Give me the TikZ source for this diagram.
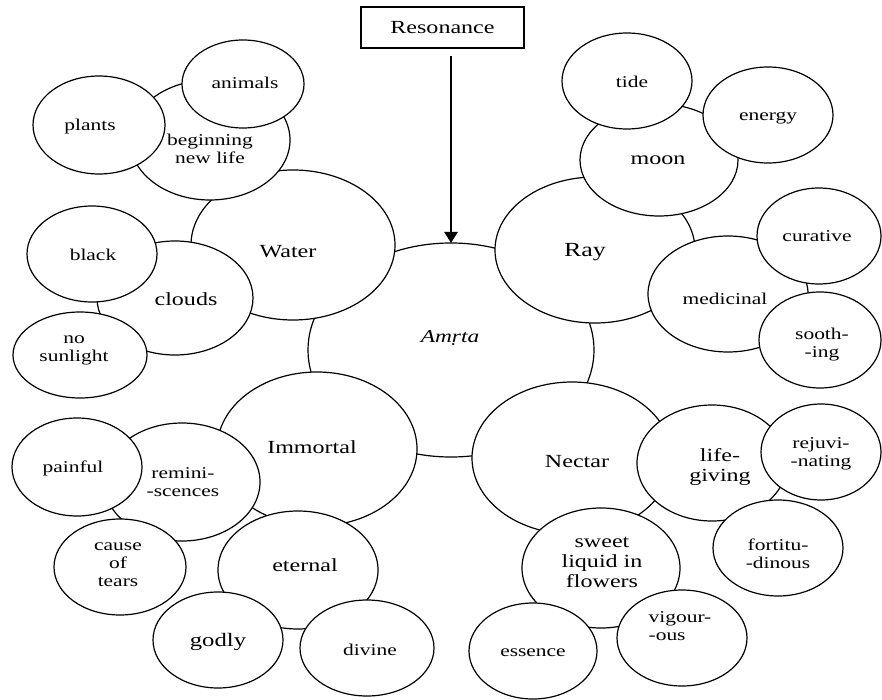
\documentclass[tikz,border=0pt]{standalone}
\usepackage{fontspec}
\setmainfont{Liberation Serif}
\usepackage{graphicx}
\usetikzlibrary{shapes.geometric,arrows.meta}
\newcommand\sxa[1]{\scalebox{1.3}[1]{#1}}
\newcommand\mlc[1]{\scalebox{1.3}[1]{\begin{tabular}{@{}c@{}}#1\end{tabular}}}
\newcommand\mll[1]{\scalebox{1.3}[1]{\begin{tabular}{@{}l@{}}#1\end{tabular}}}
\tikzset{
  bub/.style 2 args={ellipse, draw=black, fill=white, line width=1.2pt,
    inner sep=0pt, outer sep=0pt, minimum width=#1pt, minimum height=#2pt},
  big/.style={font=\fontsize{18.5}{20}\selectfont, inner sep=0pt},
  sml/.style={font=\fontsize{16.5}{18}\selectfont, inner sep=0pt},
  box/.style={draw=black, fill=white, line width=1.2pt, inner sep=0pt,
    minimum width=163pt, minimum height=41pt},
  arr/.style={line width=2.6pt, -{Triangle[width=13pt,length=11pt]}, shorten <=7pt},
}
\begin{document}
\begin{tikzpicture}[x=1pt,y=-1pt]
\useasboundingbox (0,0) rectangle (882,700);
% back layer
\node[bub={286}{214}] (amrta) at (451,350) {};
% main layer
\node[bub={204}{150}] (water) at (293,245) {};
\node[bub={200}{146}] (ray) at (595,250) {};
\node[bub={200}{154}] (immortal) at (317,449) {};
\node[bub={200}{152}] (nectar) at (572,458) {};
% second layer
\node[bub={160}{120}] (bnl) at (210,140) {};
\node[bub={156}{114}] (clouds) at (175,298) {};
\node[bub={158}{112}] (moon) at (659,160) {};
\node[bub={160}{116}] (medicinal) at (728,294) {};
\node[bub={156}{118}] (remin) at (182,482) {};
\node[bub={160}{118}] (eternal) at (298,570) {};
\node[bub={150}{116}] (lifeg) at (712,463) {};
\node[bub={158}{120}] (sweet) at (601,568) {};
% leaves
\node[bub={132}{98}] (plants) at (99,125) {};
\node[bub={122}{88}] (animals) at (243,84) {};
\node[bub={130}{96}] (black) at (92,254) {};
\node[bub={134}{86}] (nosun) at (80,355) {};
\node[bub={130}{96}] (tide) at (627,81) {};
\node[bub={130}{96}] (energy) at (768,115) {};
\node[bub={124}{96}] (curative) at (819,236) {};
\node[bub={122}{96}] (soothing) at (820,340) {};
\node[bub={130}{98}] (painful) at (77,467) {};
\node[bub={132}{96}] (cause) at (120,567) {};
\node[bub={130}{96}] (godly) at (218,640) {};
\node[bub={134}{96}] (divine) at (367,648) {};
\node[bub={120}{96}] (rejuv) at (821,452) {};
\node[bub={130}{96}] (fortit) at (778,548) {};
\node[bub={128}{96}] (essence) at (533,651) {};
\node[bub={130}{96}] (vigour) at (682,638) {};
% resonance box
\node[box, big] (reson) at (442.5,27.5) {\sxa{Resonance}};
% labels
\node[big, font=\fontsize{18}{20}\selectfont\itshape] (t-amrta) at (450,338) {\sxa{Am\d{r}ta}};
\node[big] (t-water) at (288,252) {\sxa{Water}};
\node[big, font=\fontsize{20}{22}\selectfont] (t-ray) at (585,252) {\sxa{Ray}};
\node[big] (t-immortal) at (312,447) {\sxa{Immortal}};
\node[big] (t-nectar) at (577,462) {\sxa{Nectar}};
\node[sml] (t-bnl) at (210,151) {\mlc{beginning\\new life}};
\node[big] (t-clouds) at (186,299) {\sxa{clouds}};
\node[big] (t-moon) at (658,160) {\sxa{moon}};
\node[sml] (t-medicinal) at (725,299) {\sxa{medicinal}};
\node[sml] (t-remin) at (183,484) {\mlc{remini-\\-scences}};
\node[big] (t-eternal) at (305,565) {\sxa{eternal}};
\node[big] (t-lifeg) at (720,467) {\mlc{life-\\giving}};
\node[big] (t-sweet) at (602,563) {\mlc{sweet\\liquid in\\flowers}};
\node[sml] (t-plants) at (90,127) {\sxa{plants}};
\node[sml] (t-animals) at (245,83) {\sxa{animals}};
\node[sml] (t-black) at (93,255) {\sxa{black}};
\node[sml] (t-nosun) at (74,349) {\mlc{no\\sunlight}};
\node[sml] (t-tide) at (632,82) {\sxa{tide}};
\node[sml] (t-energy) at (768,118) {\sxa{energy}};
\node[sml] (t-curative) at (817,236) {\sxa{curative}};
\node[sml] (t-soothing) at (822,345) {\mlc{sooth-\\-ing}};
\node[sml] (t-painful) at (73,468) {\sxa{painful}};
\node[sml] (t-cause) at (118,565) {\mlc{cause\\of\\tears}};
\node[big, font=\fontsize{19}{21}\selectfont] (t-godly) at (218,642) {\sxa{godly}};
\node[sml] (t-divine) at (370,650) {\sxa{divine}};
\node[sml] (t-rejuv) at (821,454) {\mlc{rejuvi-\\-nating}};
\node[sml] (t-fortit) at (778,556) {\mlc{fortitu-\\-dinous}};
\node[sml] (t-essence) at (533,653) {\sxa{essence}};
\node[sml] (t-vigour) at (680,628) {\mll{vigour-\\-ous}};
% arrow
\draw[arr] (reson.south -| amrta.north) -- (amrta.north);
\end{tikzpicture}
\end{document}
